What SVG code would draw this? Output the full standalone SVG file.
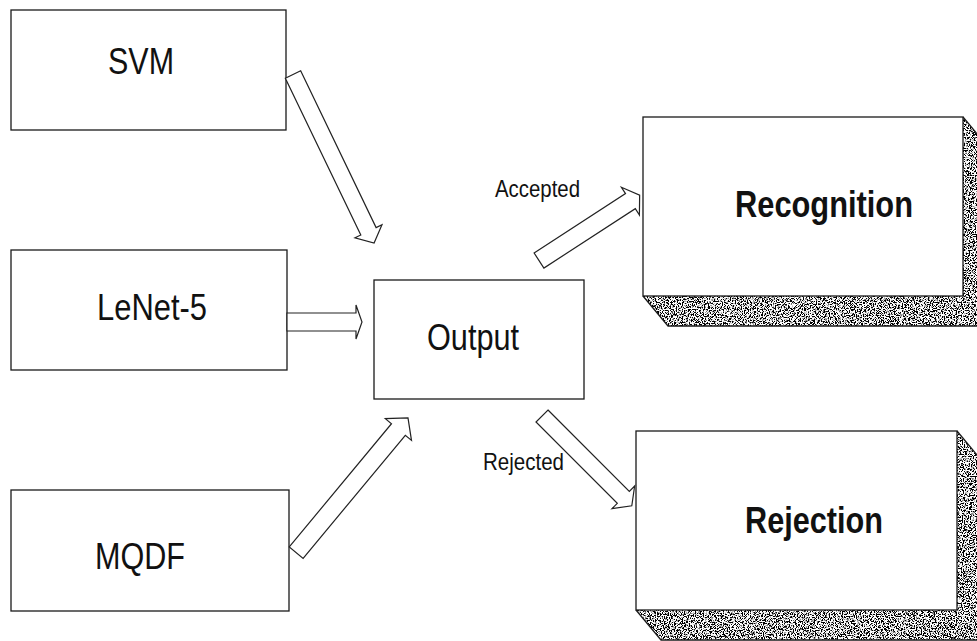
<svg xmlns="http://www.w3.org/2000/svg" width="977" height="641" viewBox="0 0 977 641">
  <defs>
    <style>
      .box { fill: #ffffff; stroke: #1a1a1a; stroke-width: 1.3; }
      .face { fill: #ffffff; }
      .edge { fill: none; stroke: #1a1a1a; stroke-width: 1.3; stroke-linejoin: round; }
      .arrow { fill: #ffffff; stroke: #222222; stroke-width: 1.2; stroke-linejoin: miter; }
      .lbl { font-family: "Liberation Sans", Arial, sans-serif; font-size: 36px; fill: #111111; }
      .big { font-family: "Liberation Sans", Arial, sans-serif; font-size: 37px; font-weight: bold; fill: #111111; }
      .small { font-family: "Liberation Sans", Arial, sans-serif; font-size: 24px; fill: #111111; }
    </style>
    <!-- speckled stipple used on the extruded faces of the 3D boxes -->
    <filter id="grain" x="0" y="0" width="1" height="1">
      <feTurbulence type="fractalNoise" baseFrequency="0.85" numOctaves="2" seed="4" result="n"/>
      <feColorMatrix in="n" type="matrix" values="0 0 0 0 0  0 0 0 0 0  0 0 0 0 0  10 0 0 0 -4.6" result="d"/>
      <feComposite in="d" in2="SourceGraphic" operator="in" result="c"/>
      <feMerge>
        <feMergeNode in="SourceGraphic"/>
        <feMergeNode in="c"/>
      </feMerge>
    </filter>
  </defs>

  <rect width="977" height="641" fill="#ffffff"/>

  <!-- classifier boxes -->
  <g id="node-svm">
    <rect class="box" x="11" y="10" width="275" height="120"/>
    <text class="lbl" x="108" y="74" textLength="66" lengthAdjust="spacingAndGlyphs">SVM</text>
  </g>

  <g id="node-lenet">
    <rect class="box" x="11" y="250" width="276" height="120"/>
    <text class="lbl" x="97" y="320" textLength="110" lengthAdjust="spacingAndGlyphs">LeNet-5</text>
  </g>

  <g id="node-mqdf">
    <rect class="box" x="11" y="490" width="278" height="121"/>
    <text class="lbl" x="95" y="569" textLength="90" lengthAdjust="spacingAndGlyphs">MQDF</text>
  </g>

  <!-- combiner -->
  <g id="node-output">
    <rect class="box" x="374" y="280" width="210" height="119"/>
    <text class="lbl" x="427" y="350" textLength="92" lengthAdjust="spacingAndGlyphs">Output</text>
  </g>

  <!-- decision boxes with extruded, stippled sides -->
  <g id="node-recognition">
    <polygon class="face" filter="url(#grain)" points="643,296 963,296 988,326 668,326"/>
    <polygon class="face" filter="url(#grain)" points="963,117 988,147 988,326 963,296"/>
    <polyline class="edge" points="643,296 668,326 988,326"/>
    <polyline class="edge" points="963,117 988,147"/>
    <rect class="box" x="643" y="117" width="320" height="179"/>
    <text class="big" x="735" y="217" textLength="178" lengthAdjust="spacingAndGlyphs">Recognition</text>
  </g>

  <g id="node-rejection">
    <polygon class="face" filter="url(#grain)" points="636,610 957,610 982,640 661,640"/>
    <polygon class="face" filter="url(#grain)" points="957,431 982,461 982,640 957,610"/>
    <polyline class="edge" points="636,610 661,640 982,640"/>
    <polyline class="edge" points="957,431 982,461"/>
    <rect class="box" x="636" y="431" width="321" height="179"/>
    <text class="big" x="745" y="533" textLength="138" lengthAdjust="spacingAndGlyphs">Rejection</text>
  </g>

  <!-- block arrows between the boxes -->
  <g id="connectors">
    <path class="arrow" transform="translate(293,74.5) rotate(64.3)" d="M0,-8.5 H174 V-15 L187,0 L174,15 V8.5 H0 Z"/>
    <path class="arrow" transform="translate(287,322)" d="M0,-9 H69 V-17 L75,0 L69,17 V9 H0 Z"/>
    <path class="arrow" transform="translate(296.2,552.6) rotate(-50.3)" d="M0,-9 H160 V-17 L175,0 L160,17 V9 H0 Z"/>
    <path class="arrow" transform="translate(539,260.5) rotate(-33)" d="M0,-9 H109 V-16.5 L120,0 L109,16.5 V9 H0 Z"/>
    <path class="arrow" transform="translate(542,416) rotate(45)" d="M0,-8.5 H115 V-16 L127,0 L115,16 V8.5 H0 Z"/>
    <text class="small" x="495" y="197" textLength="85" lengthAdjust="spacingAndGlyphs">Accepted</text>
    <text class="small" x="483" y="470" textLength="81" lengthAdjust="spacingAndGlyphs">Rejected</text>
  </g>
</svg>
